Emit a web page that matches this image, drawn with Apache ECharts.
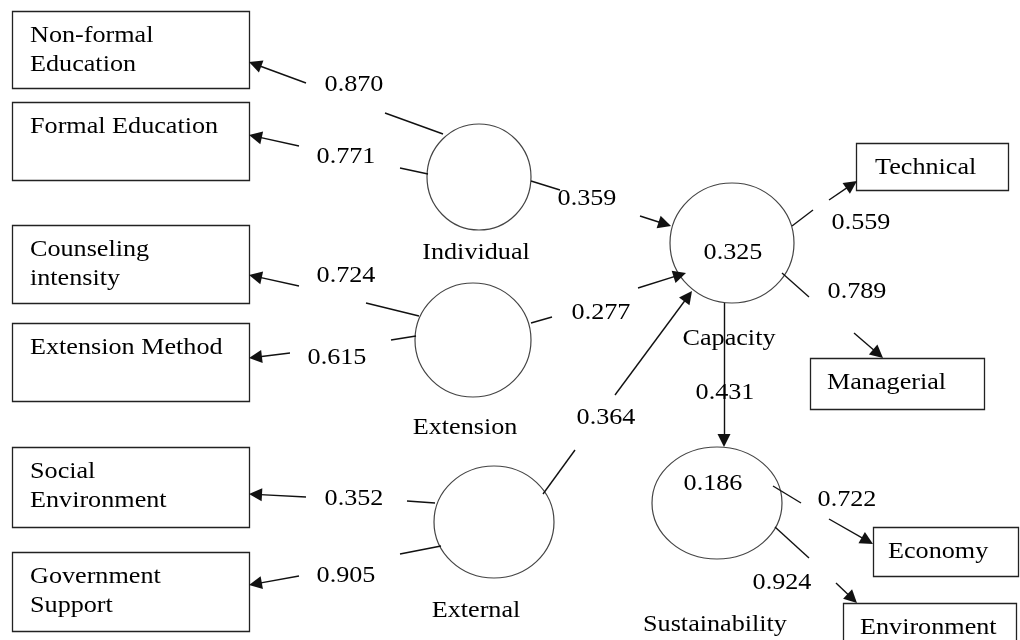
<!DOCTYPE html>
<html>
<head>
<meta charset="utf-8">
<script src="https://cdn.jsdelivr.net/npm/echarts@6/dist/echarts.min.js"></script>
<style>
  html, body { margin: 0; padding: 0; background: #fff; }
  #chart { width: 1020px; height: 640px; }
</style>
</head>
<body>
<div id="chart"></div>
<script>
// values
const indicatorNames = ['Non-formal\nEducation', 'Formal Education', 'Counseling\nintensity', 'Extension Method',
  'Social\nEnvironment', 'Government\nSupport', 'Technical', 'Managerial', 'Economy', 'Environment'];
const loadings = [0.870, 0.771, 0.724, 0.615, 0.352, 0.905, 0.559, 0.789, 0.722, 0.924];
const constructNames = ['Individual', 'Extension', 'External', 'Capacity', 'Sustainability'];
const pathCoefs = [0.359, 0.277, 0.364, 0.431]; // Individual, Extension, External -> Capacity; Capacity -> Sustainability
const rSquared = [0.325, 0.186]; // Capacity, Sustainability

// layout (diagram units = px)
const boxLayout = [[12, 11, 249, 88], [12, 102, 249, 180], [12, 225, 249, 303], [12, 323, 249, 401],
  [12, 447, 249, 527], [12, 552, 249, 631], [856, 143, 1008, 190], [810, 358, 984, 409],
  [873, 527, 1018, 576], [843, 603, 1016, 650]];
const boxTextPad = [18, 18, 18, 18, 18, 18, 19, 17, 15, 17];
const constructLayout = [[479, 177, 52, 53], [473, 340, 58, 57], [494, 522, 60, 56], [732, 243, 62, 60], [717, 503, 65, 56]];
const constructLabelPos = [[476, 253], [465, 428], [476, 611], [729, 339], [715, 625]];
const rSquaredPos = [[733, 253], [713, 484]];

// each loading: stub from the circle, arrow into the box, label spot
const loadingStub = [[[443, 134], [385, 113]], [[428, 174], [400, 168]], [[419, 316], [366, 303]], [[416, 336], [391, 340]],
  [[435, 503], [407, 501]], [[441, 546], [400, 554]], [[792, 226], [813, 210]], [[782, 273], [809, 297]],
  [[773, 486], [801, 503]], [[775, 527], [809, 558]]];
const loadingArrow = [[[306, 83], [249, 62]], [[299, 146], [249, 135]], [[299, 286], [249, 275]], [[290, 353], [249, 358]],
  [[306, 497], [249, 494]], [[299, 576], [249, 585]], [[829, 200], [857, 181]], [[854, 333], [883, 358]],
  [[829, 519], [873, 544]], [[836, 583], [857, 603]]];
const loadingLabelPos = [[354, 85], [346, 157], [346, 276], [337, 358], [354, 499], [346, 576],
  [861, 223], [857, 292], [847, 500], [782, 583]];

const pathStub = [[[531, 181], [560, 190]], [[531, 323], [552, 317]], [[543, 494], [575, 450]]];
const pathArrow = [[[640, 216], [671, 226]], [[638, 288], [686, 273]], [[615, 395], [692, 291]], [[724, 303], [724, 447]]];
const pathLabelPos = [[587, 199], [601, 313], [606, 418], [725, 393]];

const FONT = '24px "Liberation Serif", "DejaVu Serif", serif';
const TEXT_STRETCH = 1.09;
const INK = '#111';
const HEAD = [9, 13];

// lines series centres the head symbol on the end point, so pull the end back by half its length
function tipFix(c) {
  const dx = c[1][0] - c[0][0], dy = c[1][1] - c[0][1];
  const len = Math.hypot(dx, dy);
  const k = HEAD[1] / 2 / len;
  return [c[0], [c[1][0] - dx * k, c[1][1] - dy * k]];
}

const texts = [];
indicatorNames.forEach((t, i) => texts.push({ pos: [boxLayout[i][0] + boxTextPad[i], boxLayout[i][1] + 10], text: t, align: 'left', va: 'top' }));
loadings.forEach((v, i) => texts.push({ pos: loadingLabelPos[i], text: v.toFixed(3), align: 'center', va: 'middle' }));
pathCoefs.forEach((v, i) => texts.push({ pos: pathLabelPos[i], text: v.toFixed(3), align: 'center', va: 'middle' }));
rSquared.forEach((v, i) => texts.push({ pos: rSquaredPos[i], text: v.toFixed(3), align: 'center', va: 'middle' }));
constructNames.forEach((t, i) => texts.push({ pos: constructLabelPos[i], text: t, align: 'center', va: 'middle' }));

const chart = echarts.init(document.getElementById('chart'));
chart.setOption({
  animation: false,
  backgroundColor: '#fff',
  grid: { left: 0, right: 0, top: 0, bottom: 0 },
  xAxis: { type: 'value', min: 0, max: 1020, show: false },
  yAxis: { type: 'value', min: 0, max: 640, inverse: true, show: false },
  series: [
    {
      type: 'custom',
      name: 'indicators',
      data: boxLayout,
      renderItem: (params, api) => {
        const p1 = api.coord([api.value(0), api.value(1)]);
        const p2 = api.coord([api.value(2), api.value(3)]);
        return {
          type: 'rect',
          shape: { x: Math.round(p1[0]) + 0.5, y: Math.round(p1[1]) + 0.5, width: p2[0] - p1[0], height: p2[1] - p1[1] },
          style: { fill: '#fff', stroke: '#222', lineWidth: 1.3 }
        };
      }
    },
    {
      type: 'custom',
      name: 'constructs',
      data: constructLayout,
      renderItem: (params, api) => {
        const c = api.coord([api.value(0), api.value(1)]);
        const s = api.size([api.value(2), api.value(3)]);
        return {
          type: 'ellipse',
          shape: { cx: c[0], cy: c[1], rx: s[0], ry: s[1] },
          style: { fill: 'none', stroke: '#444', lineWidth: 1.2 }
        };
      }
    },
    {
      type: 'lines',
      name: 'stubs',
      coordinateSystem: 'cartesian2d',
      symbol: 'none',
      lineStyle: { color: INK, width: 1.4, opacity: 1 },
      data: loadingStub.concat(pathStub).map(c => ({ coords: c }))
    },
    {
      type: 'lines',
      name: 'arrows',
      coordinateSystem: 'cartesian2d',
      symbol: ['none', 'triangle'],
      symbolSize: HEAD,
      lineStyle: { color: INK, width: 1.4, opacity: 1 },
      itemStyle: { color: INK },
      data: loadingArrow.concat(pathArrow).map(c => ({ coords: tipFix(c) }))
    },
    {
      type: 'custom',
      name: 'texts',
      data: texts.map(t => t.pos),
      renderItem: (params, api) => {
        const t = texts[params.dataIndex];
        const p = api.coord([api.value(0), api.value(1)]);
        return {
          type: 'text',
          x: p[0],
          y: p[1],
          scaleX: TEXT_STRETCH,
          style: { text: t.text, font: FONT, fill: '#000', align: t.align, verticalAlign: t.va, lineHeight: 29 }
        };
      }
    }
  ]
});
</script>
</body>
</html>
